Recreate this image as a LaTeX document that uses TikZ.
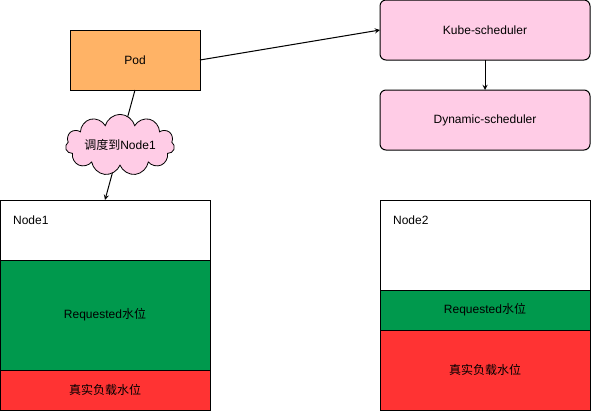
\documentclass[tikz,border=0pt]{standalone}
\usepackage{fontspec}
\setmainfont{Liberation Sans}
\newfontfamily\cjk{Noto Sans CJK SC}
\usepackage{xcolor}
\usetikzlibrary{shapes,shapes.symbols,arrows,positioning}
\definecolor{podorange}{HTML}{FFB366}
\definecolor{schedpink}{HTML}{FFCCE6}
\definecolor{reqgreen}{HTML}{00994D}
\definecolor{loadred}{HTML}{FF3333}

\begin{document}
\begin{tikzpicture}[
    x=0.75pt, y=-0.75pt,
    font=\fontsize{9}{11}\selectfont,
    outer sep=0pt,
    box/.style={rectangle, draw, line width=0.75pt, minimum width=157.5pt, align=center, outer sep=0pt},
    podbox/.style={rectangle, draw, line width=0.75pt, minimum width=97.5pt, minimum height=45pt, fill=podorange, outer sep=0pt},
    schedbox/.style={rectangle, draw, rounded corners=4.5pt, line width=0.75pt, minimum width=157.5pt, minimum height=45pt, fill=schedpink, outer sep=0pt},
    tag/.style={cloud, cloud puffs=11, aspect=2.6, draw, line width=0.6pt, fill=schedpink, minimum width=76pt, minimum height=31pt, inner sep=1pt},
    arrow/.style={->,>=stealth,line width=0.75pt},
]
\useasboundingbox (0,0) rectangle (591,411);

% Pod and schedulers
\node[podbox] (pod) at (135,60) {Pod};
\node[schedbox] (kube) at (485,30) {Kube-scheduler};
\node[schedbox, below=22.5pt of kube] (dyn) {Dynamic-scheduler};

\draw[arrow] (pod.east) -- (kube.west);
\draw[arrow] (kube) -- (dyn);

% Node1
\node[box, minimum height=45pt] (n1top) at (105,230) {};
\node[box, below=0pt of n1top, minimum height=82.5pt, fill=reqgreen] (n1req) {Requested{\cjk 水位}};
\node[box, below=0pt of n1req, minimum height=30pt, fill=loadred] (n1load) {\cjk 真实负载水位};
\node[anchor=west] (n1name) at ([xshift=6.5pt,yshift=-15pt]n1top.north west) {Node1};

% Node2
\node[box, minimum height=67.5pt] (n2top) at (485,245) {};
\node[box, below=0pt of n2top, minimum height=30pt, fill=reqgreen] (n2req) {Requested{\cjk 水位}};
\node[box, below=0pt of n2req, minimum height=60pt, fill=loadred] (n2load) {\cjk 真实负载水位};
\node[anchor=west] (n2name) at ([xshift=6.5pt,yshift=-15pt]n2top.north west) {Node2};

% Pod scheduled onto Node1
\draw[arrow] (pod.south) -- node[tag] (bind) {{\cjk 调度到}Node1} (n1top.north);

\end{tikzpicture}
\end{document}
